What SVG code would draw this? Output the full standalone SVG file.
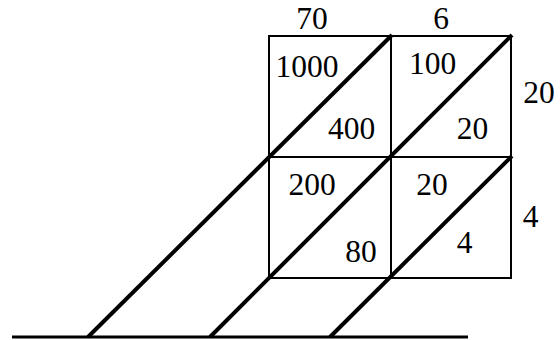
<svg xmlns="http://www.w3.org/2000/svg" width="560" height="340" viewBox="0 0 560 340">
<style>
.grid{fill:none;stroke:#000;stroke-width:2}
.diag{stroke:#000;stroke-width:4;stroke-linecap:butt}
.base{stroke:#000;stroke-width:3}
.t{font-family:'Liberation Serif','Times New Roman',serif;font-size:31.5px;fill:#000;text-anchor:middle}
</style>
<rect width="560" height="340" fill="#fff"/>
<g id="grid">
<rect class="grid" x="269" y="36" width="242" height="242"/>
<line class="grid" x1="391" y1="36" x2="391" y2="278"/>
<line class="grid" x1="269" y1="157" x2="511" y2="157"/>
</g>
<g id="connectors">
<line class="base" x1="12" y1="337" x2="468" y2="337"/>
<line class="diag" x1="392" y1="35" x2="88" y2="337"/>
<line class="diag" x1="512" y1="35" x2="210" y2="337"/>
<line class="diag" x1="512" y1="156" x2="330" y2="337"/>
</g>
<g id="labels" class="t">
<text x="312" y="29.3">70</text>
<text x="441" y="29.3">6</text>
<text x="539" y="103">20</text>
<text x="530.5" y="227">4</text>
</g>
<g id="cells" class="t">
<text x="307" y="77.3">1000</text>
<text x="351.5" y="139">400</text>
<text x="432.5" y="74">100</text>
<text x="472.5" y="139">20</text>
<text x="312" y="195">200</text>
<text x="361" y="262">80</text>
<text x="432" y="195">20</text>
<text x="464.5" y="253">4</text>
</g>
</svg>
